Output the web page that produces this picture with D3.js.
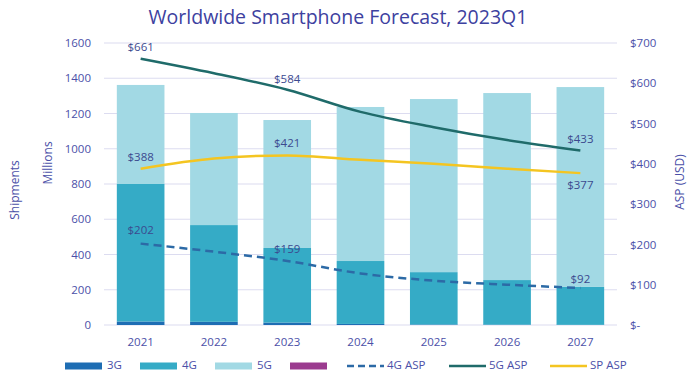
<!DOCTYPE html>
<html><head><meta charset="utf-8">
<script src="https://cdn.jsdelivr.net/npm/d3@7"></script>
<style>body{margin:0;background:#fff;} svg{display:block;font-family:"Open Sans",Lato,sans-serif;}</style>
</head><body>
<svg id="c" width="700" height="378"></svg>
<script>
const years = ["2021","2022","2023","2024","2025","2026","2027"];
const ship3G = [20, 18, 14, 6, 3, 2, 1];
const ship4G = [780, 549, 423, 357, 297, 253, 215];
const ship5G = [562, 636, 726, 874, 982, 1061, 1134];
const asp4G = [202, 182, 159, 128, 110, 100, 92];
const asp5G = [661, 625, 584, 529, 491, 459, 433];
const aspSP = [388, 413, 421, 410, 400, 388, 377];
const leftTicks = [0,200,400,600,800,1000,1200,1400,1600];
const rightTicks = [0,100,200,300,400,500,600,700];

const colors = {g3:"#1e6db3", g4:"#35abc6", g5:"#a2d9e4", purple:"#9b3b8f",
  a4:"#2c6aa6", a5:"#1f6b6a", sp:"#f4c521", text:"#4b50a8", grid:"#dcdcf0"};

const svg = d3.select("#c");
const x = d3.scaleBand().domain(years).range([104,617]).paddingInner(0.35).paddingOuter(0.175);
const yL = d3.scaleLinear().domain([0,1600]).range([325,43]);
const yR = d3.scaleLinear().domain([0,700]).range([325,43]);

// title
svg.append("text").attr("x",338).attr("y",24).attr("text-anchor","middle")
  .attr("font-size",19.5).attr("fill","#3d41a0").text("Worldwide Smartphone Forecast, 2023Q1");

// grid
svg.append("g").selectAll("line").data(leftTicks).join("line")
  .attr("x1",104).attr("x2",617).attr("y1",d=>yL(d)).attr("y2",d=>yL(d))
  .attr("stroke",colors.grid).attr("stroke-width",1.2);

// left axis
const axL = svg.append("g").attr("transform","translate(91,0)")
  .call(d3.axisLeft(yL).tickValues(leftTicks).tickSize(0).tickPadding(0).tickFormat(d3.format("d")));
axL.select(".domain").remove();
axL.selectAll("text").attr("fill",colors.text).attr("font-size",11.5).attr("font-family","'Open Sans',sans-serif");

// right axis
const axR = svg.append("g").attr("transform","translate(630,0)")
  .call(d3.axisRight(yR).tickValues(rightTicks).tickSize(0).tickPadding(0)
    .tickFormat(d=> d===0 ? "$-" : "$"+d));
axR.select(".domain").remove();
axR.selectAll("text").attr("fill",colors.text).attr("font-size",11.5).attr("font-family","'Open Sans',sans-serif");

// bottom axis
const axB = svg.append("g").attr("transform","translate(0,332)")
  .call(d3.axisBottom(x).tickSize(0).tickPadding(6));
axB.select(".domain").remove();
axB.selectAll("text").attr("fill",colors.text).attr("font-size",11.5).attr("font-family","'Open Sans',sans-serif");

// axis titles
svg.append("text").attr("transform","translate(19,190) rotate(-90)").attr("text-anchor","middle")
  .attr("font-size",12).attr("fill",colors.text).text("Shipments");
svg.append("text").attr("transform","translate(52,163) rotate(-90)").attr("text-anchor","middle")
  .attr("font-size",12).attr("fill",colors.text).text("Millions");
svg.append("text").attr("transform","translate(684,182) rotate(-90)").attr("text-anchor","middle")
  .attr("font-size",12).attr("fill",colors.text).text("ASP (USD)");

// stacked bars
const table = years.map((y,i)=>({year:y, g3:ship3G[i], g4:ship4G[i], g5:ship5G[i]}));
const stack = d3.stack().keys(["g3","g4","g5"])(table);
svg.append("g").selectAll("g").data(stack).join("g").attr("fill",d=>colors[d.key])
  .selectAll("rect").data(d=>d).join("rect")
  .attr("x",d=>x(d.data.year)).attr("width",x.bandwidth())
  .attr("y",d=>yL(d[1])).attr("height",d=>yL(d[0])-yL(d[1]));

// lines
const cx = d=>x(d)+x.bandwidth()/2;
const line = d3.line().x((d,i)=>cx(years[i])).y(d=>yR(d)).curve(d3.curveMonotoneX);
svg.append("path").attr("d",line(asp4G)).attr("fill","none").attr("stroke",colors.a4)
  .attr("stroke-width",2.5).attr("stroke-dasharray","8,5");
svg.append("path").attr("d",line(asp5G)).attr("fill","none").attr("stroke",colors.a5).attr("stroke-width",2.5);
svg.append("path").attr("d",line(aspSP)).attr("fill","none").attr("stroke",colors.sp).attr("stroke-width",2.5);

// data labels
const labels = [
  {s:asp5G,i:0,dy:-11},{s:asp5G,i:2,dy:-10},{s:asp5G,i:6,dy:-11},
  {s:aspSP,i:0,dy:-11},{s:aspSP,i:2,dy:-11},{s:aspSP,i:6,dy:13},
  {s:asp4G,i:0,dy:-13},{s:asp4G,i:2,dy:-11},{s:asp4G,i:6,dy:-8}
];
svg.append("g").selectAll("text").data(labels).join("text")
  .attr("x",d=>cx(years[d.i])).attr("y",d=>yR(d.s[d.i])+d.dy)
  .attr("text-anchor","middle").attr("dominant-baseline","middle")
  .attr("font-size",11.5).attr("fill","#3c4a8f").text(d=>"$"+d.s[d.i]);

// legend
const leg = [
  {t:"3G",type:"rect",c:colors.g3,x:65},
  {t:"4G",type:"rect",c:colors.g4,x:140},
  {t:"5G",type:"rect",c:colors.g5,x:215},
  {t:"",type:"rect",c:colors.purple,x:290},
  {t:"4G ASP",type:"dash",c:colors.a4,x:347},
  {t:"5G ASP",type:"line",c:colors.a5,x:449},
  {t:"SP ASP",type:"line",c:colors.sp,x:550}
];
const lg = svg.append("g").selectAll("g").data(leg).join("g").attr("transform",d=>`translate(${d.x},366)`);
lg.filter(d=>d.type==="rect").append("rect").attr("x",0).attr("y",-3.5).attr("width",37).attr("height",7).attr("fill",d=>d.c);
lg.filter(d=>d.type!=="rect").append("line").attr("x1",0).attr("x2",37).attr("y1",0).attr("y2",0)
  .attr("stroke",d=>d.c).attr("stroke-width",2.5).attr("stroke-dasharray",d=>d.type==="dash"?"7,4":null);
lg.append("text").attr("x",d=>d.type==="rect"?42:40).attr("y",0).attr("dominant-baseline","middle")
  .attr("font-size",11.5).attr("fill",colors.text).text(d=>d.t);
</script>
</body></html>
